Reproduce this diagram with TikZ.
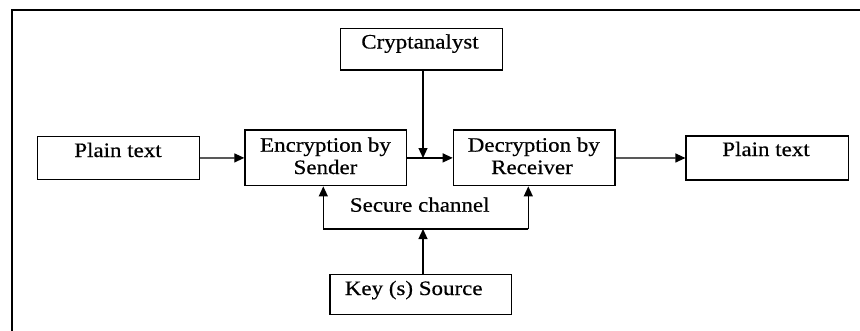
\documentclass[tikz,border=0pt]{standalone}
\usepackage{fontspec}
\setmainfont{Liberation Serif}[FakeStretch=1.12,FakeBold=0.5]
\usetikzlibrary{arrows.meta}
\tikzset{
  box/.style={draw, line width=1.3pt, inner sep=0pt},
  lbl/.style={anchor=base, inner sep=0pt, font=\fontsize{20.5}{22}\selectfont},
  arr/.style={line width=1.2pt, -{Triangle[length=10pt,width=9pt]}},
  conn/.style={line width=1.2pt}
}
\begin{document}
\begin{tikzpicture}[x=1pt,y=-1pt]
\useasboundingbox (0,0) rectangle (860,330);
% frame
\draw[line width=2.2pt] (12,331) -- (12,10) -- (861,10);
% boxes
\node[box, minimum width=161.6pt, minimum height=42.6pt] (pt1) at (118.5,158) {};
\node[box, minimum width=161.7pt, minimum height=55.7pt] (enc) at (325.8,157.9) {};
\node[box, minimum width=161.6pt, minimum height=41.7pt] (crypt) at (421.5,49.2) {};
\node[box, minimum width=161.7pt, minimum height=55.7pt] (dec) at (534.2,157.9) {};
\node[box, minimum width=162.3pt, minimum height=44pt] (pt2) at (767.2,158) {};
\node[box, minimum width=181.7pt, minimum height=40pt] (key) at (420.8,294.3) {};
% texts
\node[lbl] (pt1t) at (118,157) {Plain text};
\node[lbl] (enct1) at (325.5,151.7) {Encryption by};
\node[lbl] (enct2) at (325.5,174) {Sender};
\node[lbl] (cryptt) at (420,48.5) {Cryptanalyst};
\node[lbl] (dect1) at (533.8,151.7) {Decryption by};
\node[lbl] (dect2) at (532,174) {Receiver};
\node[lbl] (pt2t) at (766,156) {Plain text};
\node[lbl] (sec) at (419.7,211.7) {Secure channel};
\node[lbl] (keyt) at (413.7,295) {Key (s) Source};
% connectors
\coordinate (m) at (423,158);
\coordinate (k) at (423,229);
\coordinate (cl) at (323.3,229);
\coordinate (cr) at (528.3,229);
\draw[arr] (pt1.east) -- (enc.west);
\draw[arr] (enc.east) -- (dec.west);
\draw[arr] (m |- crypt.south) -- (m);
\draw[arr] (dec.east) -- (pt2.west);
\draw[arr] (k |- key.north) -- (k);
\draw[arr] (cr) -- (cl) -- (cl |- enc.south);
\draw[arr] (cr) -- (cr |- dec.south);
\end{tikzpicture}
\end{document}
